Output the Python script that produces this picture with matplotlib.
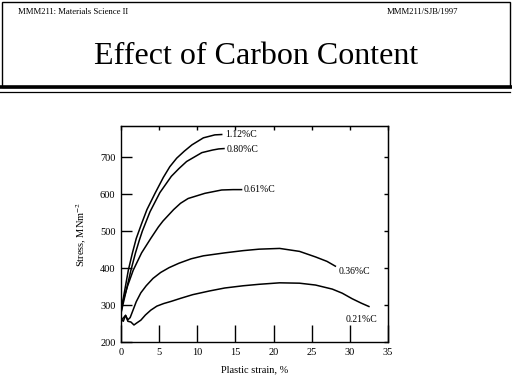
import matplotlib
matplotlib.use("Agg")
import matplotlib.pyplot as plt
from matplotlib.patches import Rectangle
from matplotlib.lines import Line2D

plt.rcParams['font.family'] = ['Liberation Serif', 'DejaVu Serif']
plt.rcParams['mathtext.fontset'] = 'stix'

# plastic strain (%) vs stress (MN/m^2)
c112_x = [0, 0.3, 0.96, 1.5, 2.0, 2.7, 3.4, 4.46, 5.55, 6.4, 7.3, 8.3, 9.3, 10.8, 12.3, 13.2]
c112_y = [280, 318, 394, 441, 480, 520, 558, 602, 645, 674, 697, 716, 733, 752, 760, 761]

c080_x = [0, 0.3, 1.3, 1.9, 2.4, 2.8, 3.8, 5.1, 6.6, 7.6, 8.6, 10.6, 12.0, 12.8, 13.5]
c080_y = [278, 305, 394, 441, 475, 500, 552, 604, 648, 669, 688, 712, 719, 722, 723]

c061_x = [0, 0.1, 0.87, 1.6, 2.7, 3.9, 4.9, 5.5, 6.9, 7.8, 8.8, 11.0, 13.2, 14.7, 15.8]
c061_y = [278, 300, 352, 394, 441, 480, 511, 527, 558, 575, 588, 602, 611, 612, 612]

c036_x = [0, 0.3, 0.6, 0.9, 1.2, 1.5, 2.0, 2.6, 3.3, 4.2, 5.2, 6.3, 7.6, 9.2, 10.8, 13.6, 16.0, 18.1, 20.8, 23.4, 25.5, 27.0, 28.1]
c036_y = [262, 256, 272, 260, 266, 282, 309, 333, 352, 372, 388, 401, 413, 425, 433, 441, 447, 451, 453, 445, 430, 418, 405]

c021_x = [0, 0.3, 0.6, 0.9, 1.3, 1.7, 2.1, 2.6, 3.2, 3.9, 4.7, 5.6, 6.6, 7.8, 9.4, 11.6, 13.6, 16.0, 18.1, 20.8, 23.4, 25.5, 27.7, 29.0, 30.3, 31.5, 32.5]
c021_y = [258, 265, 272, 256, 254, 246, 252, 259, 273, 286, 297, 304, 310, 318, 328, 338, 346, 352, 356, 360, 359, 354, 343, 332, 317, 305, 296]

curve_labels = ['1.12%C', '0.80%C', '0.61%C', '0.36%C', '0.21%C']
label_x = [13.6, 13.9, 16.1, 28.5, 29.5]
label_y = [762, 721, 611, 390, 262]

xticks = [0, 5, 10, 15, 20, 25, 30, 35]
yticks = [200, 300, 400, 500, 600, 700]

fig = plt.figure(figsize=(5.12, 3.84), dpi=100)
W, H = 512.0, 384.0

# header box and rules
fig.add_artist(Rectangle((2 / W, 1 - 87 / H), 508 / W, 85 / H, transform=fig.transFigure,
                         fill=False, edgecolor='black', linewidth=1.0))
fig.add_artist(Line2D([0, 511 / W], [1 - 87 / H, 1 - 87 / H], transform=fig.transFigure,
                      color='black', linewidth=2.6))
fig.add_artist(Line2D([0, 510 / W], [1 - 92 / H, 1 - 92 / H], transform=fig.transFigure,
                      color='black', linewidth=0.9))
fig.text(18 / W, 1 - 12 / H, 'MMM211: Materials Science II', fontsize=6.2, va='center', ha='left')
fig.text(458 / W, 1 - 12 / H, 'MMM211/SJB/1997', fontsize=6.2, va='center', ha='right')
fig.text(256 / W, 1 - 57 / H, 'Effect of Carbon Content', fontsize=23, va='center', ha='center')

ax = fig.add_axes([121 / W, 1 - 342 / H, 267 / W, 216 / H])
for xs, ys in [(c112_x, c112_y), (c080_x, c080_y), (c061_x, c061_y), (c036_x, c036_y), (c021_x, c021_y)]:
    ax.plot(xs, ys, color='black', linewidth=1.1, solid_joinstyle='round')
for lab, lx, ly in zip(curve_labels, label_x, label_y):
    ax.text(lx, ly, lab, fontsize=7, ha='left', va='center')

ax.set_xlim(0, 35)
ax.set_ylim(200, 784)
ax.set_xticks(xticks)
ax.set_yticks(yticks)
ax.tick_params(axis='x', direction='in', length=12, width=1.0, labelsize=7.5, pad=4)
ax.tick_params(axis='y', direction='in', length=8, width=1.0, labelsize=7.5, pad=4)

# short ticks on top and right edges
top = ax.secondary_xaxis('top')
top.set_xticks(xticks)
top.tick_params(direction='in', length=3, width=1.0, labeltop=False)
right = ax.secondary_yaxis('right')
right.set_yticks(yticks)
right.tick_params(direction='in', length=3, width=1.0, labelright=False)

for s in ax.spines.values():
    s.set_linewidth(1.0)
ax.set_xlabel('Plastic strain, %', fontsize=7.5, labelpad=6)
ax.set_ylabel('Stress, MNm$^{-2}$', fontsize=7.5, labelpad=8)

fig.savefig('out.png', dpi=100)
